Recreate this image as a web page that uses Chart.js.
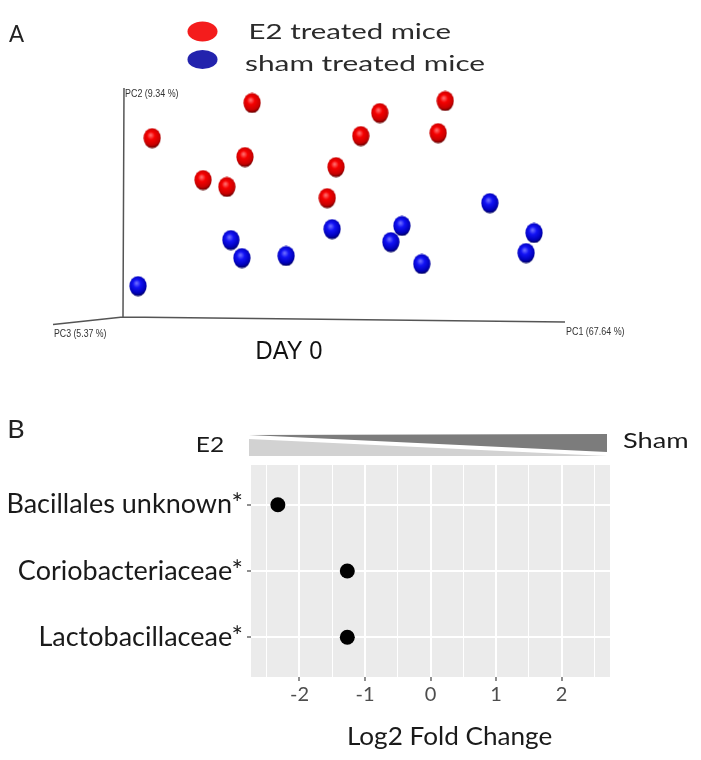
<!DOCTYPE html>
<html>
<head>
<meta charset="utf-8">
<script src="https://cdn.jsdelivr.net/npm/chart.js@4.4.1/dist/chart.umd.min.js"></script>
<style>
  body { margin: 0; background: #fff; }
  canvas { display: block; }
</style>
</head>
<body>
<canvas id="pcoaChart" width="701" height="380"></canvas>
<canvas id="foldChart" width="701" height="380"></canvas>
<script>
// Panel A: PCoA projection (no ticks in the original, units are arbitrary 0-100)
const e2PC1 = [29.2, 6.6, 27.6, 18.1, 23.5, 48.2, 46.2, 53.8, 58.1, 72.9, 71.3, -3.4];
const e2PC2 = [94.3, 78.9, 70.6, 60.5, 57.5, 66.2, 52.6, 79.8, 89.9, 95.2, 81.1, 40.4];
const shamPC1 = [24.4, 26.9, 36.9, 47.3, 63.1, 60.6, 67.6, 83.0, 93.0, 91.2, 3.4];
const shamPC2 = [34.2, 26.3, 27.2, 39.0, 40.4, 33.3, 23.7, 50.4, 37.3, 28.5, 14.0];

// Panel B: log2 fold change per taxon
const taxa = ["Bacillales unknown*", "Coriobacteriaceae*", "Lactobacillaceae*"];
const log2FoldChange = [-2.33, -1.27, -1.27];

const CAL = "Lato, 'Open Sans', sans-serif";

// draws text so that its ink spans exactly `width` px starting at x
function fitText(ctx, text, x, baseline, font, color, width) {
  ctx.save();
  ctx.font = font;
  ctx.fillStyle = color;
  ctx.textAlign = "left";
  ctx.textBaseline = "alphabetic";
  const m = ctx.measureText(text);
  const ink = m.actualBoundingBoxLeft + m.actualBoundingBoxRight;
  const sx = width / ink;
  ctx.translate(x, baseline);
  ctx.scale(sx, 1);
  ctx.fillText(text, m.actualBoundingBoxLeft, 0);
  ctx.restore();
}

function sphere(stops) {
  const c = document.createElement("canvas");
  c.width = 18;
  c.height = 21;
  const g = c.getContext("2d");
  g.beginPath();
  g.ellipse(9, 10.5, 8.6, 10.1, 0, 0, Math.PI * 2);
  g.clip();
  const grad = g.createRadialGradient(7.5, 7.5, 0.5, 8.5, 9.5, 12);
  stops.forEach((s) => grad.addColorStop(s[0], s[1]));
  g.fillStyle = grad;
  g.fillRect(0, 0, 18, 21);
  return c;
}
const redBall = sphere([[0, "#ff6a6a"], [0.3, "#f50000"], [0.7, "#c80000"], [1, "#3a0000"]]);
const blueBall = sphere([[0, "#6a6aff"], [0.3, "#1212f5"], [0.7, "#0000bb"], [1, "#00003a"]]);

const pcoaDeco = {
  id: "pcoaDeco",
  beforeDatasetsDraw(chart) {
    const ctx = chart.ctx;
    const a = chart.chartArea;
    ctx.save();
    ctx.strokeStyle = "#555";
    ctx.lineWidth = 1.5;
    ctx.beginPath();
    ctx.moveTo(a.left + 1, a.top - 2);
    ctx.lineTo(a.left, a.bottom - 1);
    ctx.lineTo(a.right, a.bottom + 4);
    ctx.moveTo(a.left, a.bottom - 1);
    ctx.lineTo(53, a.bottom + 6.5);
    ctx.stroke();
    ctx.restore();
  },
  afterDraw(chart) {
    const ctx = chart.ctx;
    fitText(ctx, "A", 9, 42.3, "23px " + CAL, "#222", 15.5);
    ctx.save();
    ctx.fillStyle = "#f41c1c";
    ctx.beginPath();
    ctx.ellipse(202.5, 31.5, 15, 10, 0, 0, Math.PI * 2);
    ctx.fill();
    ctx.fillStyle = "#2323ad";
    ctx.beginPath();
    ctx.ellipse(202.5, 59.5, 15, 9.5, 0, 0, Math.PI * 2);
    ctx.fill();
    ctx.restore();
    fitText(ctx, "E2 treated mice", 250, 39.3, "21px " + CAL, "#2b2b2b", 201);
    fitText(ctx, "sham treated mice", 245, 71, "21px " + CAL, "#2b2b2b", 240);
    const small = "11px 'Liberation Sans Narrow', 'Liberation Sans', sans-serif";
    fitText(ctx, "PC2 (9.34 %)", 125, 96.5, small, "#333", 53);
    fitText(ctx, "PC3 (5.37 %)", 54, 337, small, "#333", 52);
    fitText(ctx, "PC1 (67.64 %)", 566, 335, small, "#333", 58);
    fitText(ctx, "DAY 0", 257.5, 359.3, "25px 'Liberation Sans', Arial, sans-serif", "#111", 64);
  }
};

new Chart(document.getElementById("pcoaChart"), {
  type: "scatter",
  data: {
    datasets: [
      {
        label: "E2 treated mice",
        data: e2PC1.map((v, i) => ({ x: v, y: e2PC2[i] })),
        pointStyle: redBall,
        clip: false,
      },
      {
        label: "sham treated mice",
        data: shamPC1.map((v, i) => ({ x: v, y: shamPC2[i] })),
        pointStyle: blueBall,
        clip: false,
      },
    ],
  },
  options: {
    responsive: false,
    animation: false,
    layout: { padding: { left: 123, right: 136, top: 90, bottom: 62 } },
    scales: {
      x: { display: false, min: 0, max: 100 },
      y: { display: false, min: 0, max: 100 },
    },
    plugins: { legend: { display: false }, tooltip: { enabled: false } },
  },
  plugins: [pcoaDeco],
});

const foldDeco = {
  id: "foldDeco",
  beforeDraw(chart) {
    const ctx = chart.ctx;
    const a = chart.chartArea;
    ctx.save();
    ctx.fillStyle = "#ebebeb";
    ctx.fillRect(a.left, a.top, a.right - a.left, a.bottom - a.top);
    ctx.restore();
  },
  afterDraw(chart) {
    const ctx = chart.ctx;
    ctx.save();
    // gradient header: E2 -> Sham
    ctx.fillStyle = "#7c7c7c";
    ctx.beginPath();
    ctx.moveTo(249, 55);
    ctx.lineTo(607, 54);
    ctx.lineTo(607, 72);
    ctx.closePath();
    ctx.fill();
    ctx.fillStyle = "#d2d2d2";
    ctx.beginPath();
    ctx.moveTo(249, 59);
    ctx.lineTo(607, 76);
    ctx.lineTo(249, 76);
    ctx.closePath();
    ctx.fill();
    ctx.restore();
    fitText(ctx, "B", 9.3, 58.3, "25px " + CAL, "#222", 14);
    fitText(ctx, "E2", 197, 71.7, "21px " + CAL, "#1a1a1a", 27);
    fitText(ctx, "Sham", 623, 67.7, "21px " + CAL, "#1a1a1a", 64);
    fitText(ctx, "Log2 Fold Change", 349, 365, "25px " + CAL, "#1a1a1a", 203);
  }
};

new Chart(document.getElementById("foldChart"), {
  type: "scatter",
  data: {
    datasets: [
      {
        label: "log2 fold change",
        data: log2FoldChange.map((v, i) => ({ x: v, y: i + 1 })),
        backgroundColor: "#000",
        borderWidth: 0,
        pointRadius: 7.5,
      },
    ],
  },
  options: {
    responsive: false,
    animation: false,
    layout: { padding: { left: 0, right: 91, top: 85, bottom: 0 } },
    scales: {
      x: {
        min: -2.74,
        max: 2.74,
        afterFit: (s) => { s.height = 83; },
        border: { display: false },
        grid: {
          color: "#fff",
          lineWidth: (c) => (Number.isInteger(c.tick && c.tick.value) ? 2 : 1),
          tickColor: (c) => (Number.isInteger(c.tick && c.tick.value) ? "#444" : "rgba(0,0,0,0)"),
          tickWidth: 1.2,
          tickLength: 4,
        },
        ticks: {
          stepSize: 0.5,
          includeBounds: false,
          autoSkip: false,
          maxRotation: 0,
          padding: 2,
          color: "#4d4d4d",
          font: { family: CAL, size: 20 },
          callback: (v) => (Number.isInteger(v) ? String(v) : ""),
        },
      },
      y: {
        reverse: true,
        min: 0.4,
        max: 3.6,
        afterFit: (s) => { s.width = 251; },
        border: { display: false },
        grid: { color: "#fff", lineWidth: 2, tickColor: "#444", tickWidth: 1.2, tickLength: 4 },
        ticks: {
          stepSize: 1,
          includeBounds: false,
          padding: 4,
          color: "#1a1a1a",
          font: { family: CAL, size: 27 },
          callback: (v) => taxa[v - 1] || "",
        },
      },
    },
    plugins: { legend: { display: false }, tooltip: { enabled: false } },
  },
  plugins: [foldDeco],
});
</script>
</body>
</html>
